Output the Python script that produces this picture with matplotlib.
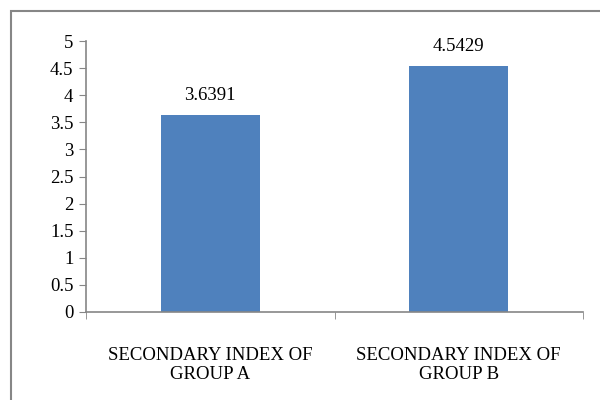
import matplotlib
matplotlib.use("Agg")
import matplotlib.pyplot as plt
from matplotlib.patches import Rectangle

# data
categories = ["SECONDARY INDEX OF\nGROUP A", "SECONDARY INDEX OF\nGROUP B"]
values = [3.6391, 4.5429]
value_labels = ["3.6391", "4.5429"]
y_ticks = [0, 0.5, 1, 1.5, 2, 2.5, 3, 3.5, 4, 4.5, 5]
y_tick_labels = ["0", "0.5", "1", "1.5", "2", "2.5", "3", "3.5", "4", "4.5", "5"]

plt.rcParams['font.family'] = ['Liberation Serif', 'DejaVu Serif']

fig = plt.figure(figsize=(6, 4), dpi=100)
ax = fig.add_axes([86 / 600, 88 / 400, 497 / 600, 271 / 400])

# outer chart frame (cropped on right and bottom)
top = 1 - 11 / 400
fig.patches.append(Rectangle((11 / 600, -0.2), 1.2, top + 0.2,
                             transform=fig.transFigure, fill=False,
                             edgecolor="#868686", linewidth=1.5))

x = list(range(len(categories)))
ax.bar(x, values, width=0.4, color="#4F81BD")
for xi, v, lab in zip(x, values, value_labels):
    ax.text(xi, v + 0.2, lab, ha="center", va="bottom", fontsize=13.5)

ax.set_xlim(-0.5, len(categories) - 0.5)
ax.set_ylim(0, 5)
ax.set_yticks(y_ticks)
ax.set_yticklabels(y_tick_labels, fontsize=13.5)

ax.set_xticks(x)
ax.set_xticklabels(categories, fontsize=13.5, linespacing=1.2)
ax.tick_params(axis="x", which="major", length=0, pad=25)
ax.set_xticks([-0.5, 0.5, 1.5], minor=True)
ax.tick_params(axis="x", which="minor", length=5, color="#868686")
ax.tick_params(axis="y", length=5, color="#868686", pad=4)

for side in ["top", "right"]:
    ax.spines[side].set_visible(False)
for side in ["left", "bottom"]:
    ax.spines[side].set_color("#868686")
    ax.spines[side].set_linewidth(1.2)

fig.savefig("out.png", dpi=100)
